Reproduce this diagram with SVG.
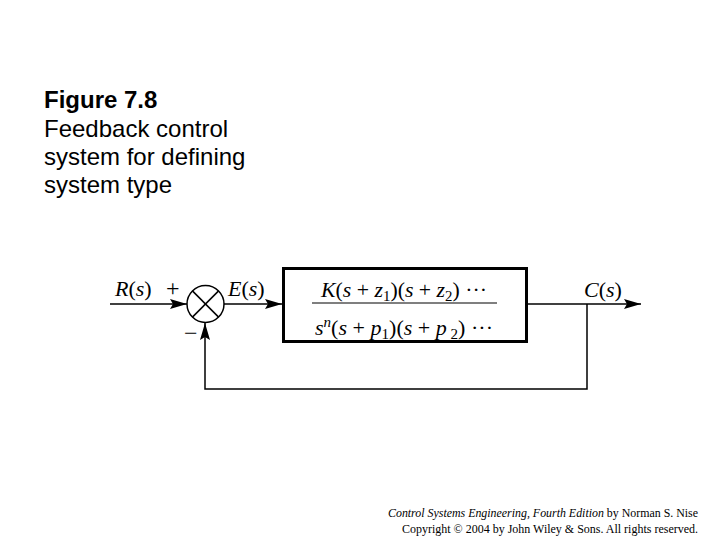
<svg xmlns="http://www.w3.org/2000/svg" width="720" height="540" viewBox="0 0 720 540">
<style>
.t{font-family:"Liberation Sans",Arial,sans-serif;font-size:24px;fill:#000}
.b{font-weight:bold}
.m{font-family:"Liberation Serif","Times New Roman",serif;font-size:22px;fill:#000}
.lab{font-family:"Liberation Serif","Times New Roman",serif;font-size:22px;fill:#000}
.sg{font-family:"Liberation Serif","Times New Roman",serif;font-size:24px;fill:#000}
.i{font-style:italic}
.sub{font-size:15px}
.ln{fill:none;stroke:#000;stroke-width:1.5}
.ft{font-family:"Liberation Serif","Times New Roman",serif;font-size:12px;fill:#000}
</style>
<defs>
<marker id="arr" markerUnits="userSpaceOnUse" markerWidth="17" markerHeight="10" refX="17" refY="5" orient="auto">
<path d="M0,0 L17,5 L0,10 L3,5 z" fill="#000"/>
</marker>
</defs>
<rect width="720" height="540" fill="#fff"/>
<g id="caption">
<text class="t b" x="44" y="108">Figure 7.8</text>
<text class="t" x="44" y="137">Feedback control</text>
<text class="t" x="44" y="165">system for defining</text>
<text class="t" x="44" y="193">system type</text>
</g>
<g id="connectors">
<line class="ln" x1="110" y1="304" x2="187" y2="304" marker-end="url(#arr)"/>
<line class="ln" x1="224" y1="304" x2="282" y2="304" marker-end="url(#arr)"/>
<line class="ln" x1="528" y1="304" x2="641" y2="304" marker-end="url(#arr)"/>
<polyline class="ln" points="587,304 587,389 205,389 205,323" marker-end="url(#arr)"/>
</g>
<g id="sum">
<circle class="ln" cx="205.5" cy="304" r="18.5"/>
<line class="ln" x1="192.4" y1="290.9" x2="218.6" y2="317.1"/>
<line class="ln" x1="218.6" y1="290.9" x2="192.4" y2="317.1"/>
<text class="sg" x="166" y="296">+</text>
<text class="sg" x="184" y="341">−</text>
</g>
<g id="plant">
<rect x="283.5" y="268.5" width="243" height="73" fill="none" stroke="#000" stroke-width="3"/>
<line x1="312" y1="303" x2="497" y2="303" stroke="#000" stroke-width="1.2"/>
<text class="m" x="321" y="297" textLength="166" lengthAdjust="spacingAndGlyphs"><tspan class="i">K</tspan>(<tspan class="i">s</tspan> + <tspan class="i">z</tspan><tspan class="sub" dy="4">1</tspan><tspan dy="-4">)(</tspan><tspan class="i">s</tspan> + <tspan class="i">z</tspan><tspan class="sub" dy="4">2</tspan><tspan dy="-4">) ···</tspan></text>
<text class="m" x="315" y="335" textLength="178" lengthAdjust="spacingAndGlyphs"><tspan class="i">s</tspan><tspan class="i sub" dy="-8">n</tspan><tspan dy="8">(</tspan><tspan class="i">s</tspan> + <tspan class="i">p</tspan><tspan class="sub" dy="4">1</tspan><tspan dy="-4">)(</tspan><tspan class="i">s</tspan> + <tspan class="i">p</tspan><tspan class="sub" dy="4"> 2</tspan><tspan dy="-4">) ···</tspan></text>
</g>
<g id="labels">
<text class="lab" x="115" y="296"><tspan class="i">R</tspan>(<tspan class="i">s</tspan>)</text>
<text class="lab" x="228" y="296"><tspan class="i">E</tspan>(<tspan class="i">s</tspan>)</text>
<text class="lab" x="584" y="297"><tspan class="i">C</tspan>(<tspan class="i">s</tspan>)</text>
</g>
<g id="footer">
<text class="ft" x="698" y="517" text-anchor="end" textLength="310" lengthAdjust="spacingAndGlyphs"><tspan class="i">Control Systems Engineering, Fourth Edition</tspan> by Norman S. Nise</text>
<text class="ft" x="698" y="533" text-anchor="end" textLength="296" lengthAdjust="spacingAndGlyphs">Copyright © 2004 by John Wiley &amp; Sons. All rights reserved.</text>
</g>
</svg>
